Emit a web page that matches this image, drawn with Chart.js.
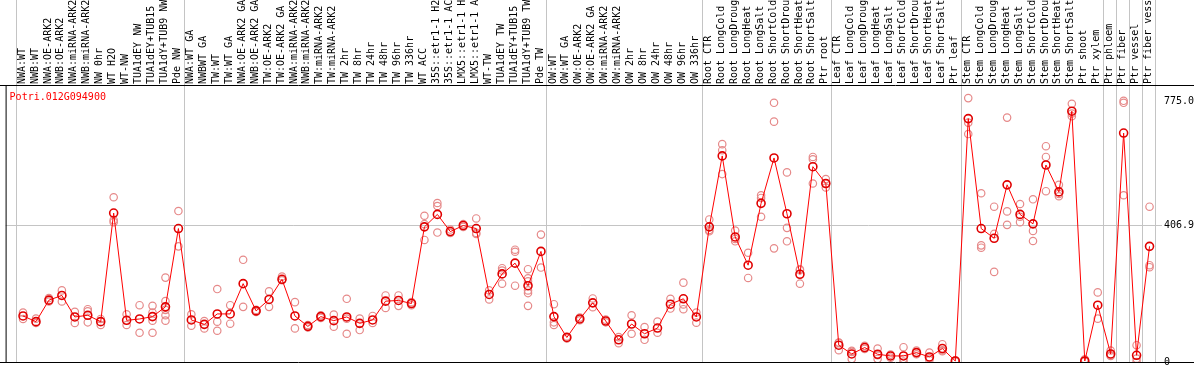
<!doctype html>
<html lang="en">
<head>
<meta charset="utf-8">
<title>Potri.012G094900</title>
<style>
  * { margin: 0; padding: 0; }
  body { background: #fff; }
  .chartBox { width: 1194px; height: 370px; }
</style>
</head>
<body>
<div class="chartBox"><canvas id="exprChart"></canvas></div>
<script src="https://cdn.jsdelivr.net/npm/chart.js"></script>
<script>
const geneName = 'Potri.012G094900'

const categories = [
  'NWA:WT', 'NWB:WT', 'NWA:OE-ARK2', 'NWB:OE-ARK2', 'NWA:miRNA-ARK2', 'NWB:miRNA-ARK2',
  'NW 0hr', 'WT H2O', 'WT-NW', 'TUA1dEY NW', 'TUA1dEY+TUB15', 'TUA1dY+TUB9 NW', 'Pde NW',
  'NWA:WT GA', 'NWBWT GA', 'TW:WT', 'TW:WT GA', 'NWA:OE-ARK2 GA', 'NWB:OE-ARK2 GA',
  'TW:OE-ARK2', 'TW:OE-ARK2 GA', 'NWA:miRNA-ARK2', 'NWB:miRNA-ARK2', 'TW:miRNA-ARK2',
  'TW:miRNA-ARK2', 'TW 2hr', 'TW 8hr', 'TW 24hr', 'TW 48hr', 'TW 96hr', 'TW 336hr',
  'WT ACC', '35S::etr1-1 H2O', '35S::etr1-1 ACC', 'LMX5::etr1-1 H2O', 'LMX5::etr1-1 ACC',
  'WT-TW', 'TUA1dEY TW', 'TUA1dEY+TUB15', 'TUA1dY+TUB9 TW', 'Pde TW',
  'OW:WT', 'OW:WT GA', 'OW:OE-ARK2', 'OW:OE-ARK2 GA', 'OW:miRNA-ARK2', 'OW:miRNA-ARK2',
  'OW 2hr', 'OW 8hr', 'OW 24hr', 'OW 48hr', 'OW 96hr', 'OW 336hr',
  'Root CTR', 'Root LongCold', 'Root LongDrought', 'Root LongHeat', 'Root LongSalt',
  'Root ShortCold', 'Root ShortDrought', 'Root ShortHeat', 'Root ShortSalt', 'Ptr root',
  'Leaf CTR', 'Leaf LongCold', 'Leaf LongDrought', 'Leaf LongHeat', 'Leaf LongSalt',
  'Leaf ShortCold', 'Leaf ShortDrought', 'Leaf ShortHeat', 'Leaf ShortSalt', 'Ptr leaf',
  'Stem CTR', 'Stem LongCold', 'Stem LongDrought', 'Stem LongHeat', 'Stem LongSalt',
  'Stem ShortCold', 'Stem ShortDrought', 'Stem ShortHeat', 'Stem ShortSalt',
  'Ptr shoot', 'Ptr xylem', 'Ptr phloem', 'Ptr fiber', 'Ptr vessel', 'Ptr fiber vessel'
]

// mean expression per sample
const means = [
  137, 120, 184, 198, 134, 139, 120, 443, 124, 128, 135, 164, 397,
  125, 112, 143, 143, 233, 152, 186, 246, 137, 106, 135, 123, 134, 115, 125, 181, 183, 174,
  402, 439, 388, 406, 397, 201, 262, 294, 227, 329,
  135, 73, 128, 176, 122, 66, 113, 84, 101, 172, 188, 134,
  402, 613, 372, 288, 472, 607, 441, 261, 581, 531,
  50, 24, 43, 23, 18, 18, 28, 15, 40, 3,
  724, 397, 368, 527, 439, 411, 586, 506, 746,
  3, 169, 24, 681, 20, 344
]

// individual replicates per sample
const replicates = [
  [147, 128], [129, 116], [190, 180], [213, 180], [149, 116], [157, 151, 118],
  [128, 110], [490, 422, 416], [142, 110], [169, 87], [167, 147, 123, 87],
  [251, 181, 155, 139, 123], [449, 344],
  [142, 108], [122, 100], [217, 120, 93], [169, 114], [304, 164], [155, 149],
  [210, 164], [254, 243], [178, 100], [110, 103], [139, 131], [141, 105],
  [188, 129, 84], [129, 95], [137, 116], [198, 161], [198, 167], [178, 169],
  [435, 410, 363], [473, 464, 385], [394, 384], [410, 402], [427, 384, 381],
  [213, 186], [279, 272, 233], [334, 328, 227], [276, 249, 240, 213, 205, 167], [379, 281],
  [172, 118, 110], [76, 70], [132, 124], [189, 163], [126, 118], [74, 56],
  [139, 84], [104, 66], [120, 87], [188, 159], [236, 171, 157], [147, 117],
  [424, 393, 389], [648, 630, 559], [391, 366, 359], [325, 250], [496, 488, 432],
  [771, 715, 338], [564, 399, 359], [276, 273, 233], [610, 603, 531], [544, 531, 519],
  [58, 57, 35], [33, 30, 9], [48, 39], [40, 20, 9], [22, 13],
  [44, 9, 1], [34, 23], [28, 11, 6], [53, 35, 32], [5, 1],
  [785, 712, 678], [502, 347, 340], [462, 381, 268], [727, 448, 408], [470, 432, 416],
  [484, 390, 360], [642, 610, 508], [527, 500, 493], [768, 739, 731],
  [8, 1], [207, 129], [34, 20, 18], [777, 771, 496], [50, 10, 0], [462, 288, 282]
]

const yTickValues = [0, 406.9, 775.0]
// last sample index of each group, a separator is drawn after it
const groupEnds = [-1, 12, 40, 52, 62, 72, 83, 84, 85, 86, 87]

const meanPoints = means.map((v, i) => ({ x: i, y: v }))
const repPoints = replicates.flatMap((r, i) => r.map(v => ({ x: i, y: v })))

const monoFont = { family: 'DejaVu Sans Mono', size: 10 }

// frame, group separators and gene name
const decor = {
  id: 'decor',
  beforeDatasetsDraw(chart) {
    const { ctx, chartArea, scales } = chart
    ctx.save()
    ctx.strokeStyle = '#c4c4c4'
    ctx.lineWidth = 1
    groupEnds.forEach(g => {
      const x = Math.round(scales.x.getPixelForValue(g + 0.5)) - 0.5
      ctx.beginPath()
      ctx.moveTo(x, 0)
      ctx.lineTo(x, chartArea.bottom)
      ctx.stroke()
    })
    ctx.restore()
  },
  afterDraw(chart) {
    const { ctx, chartArea, width } = chart
    ctx.save()
    ctx.strokeStyle = '#000'
    ctx.lineWidth = 1
    ctx.beginPath()
    ctx.moveTo(0, chartArea.top - 0.5)
    ctx.lineTo(width, chartArea.top - 0.5)
    ctx.moveTo(0, chartArea.bottom + 0.5)
    ctx.lineTo(width, chartArea.bottom + 0.5)
    ctx.moveTo(chartArea.left + 0.5, chartArea.top)
    ctx.lineTo(chartArea.left + 0.5, chartArea.bottom)
    ctx.stroke()
    ctx.fillStyle = '#ff0000'
    ctx.font = '10px "DejaVu Sans Mono"'
    ctx.textBaseline = 'middle'
    ctx.fillText(geneName, chartArea.left + 4, chartArea.top + 11)
    ctx.restore()
  }
}

const config = {
  type: 'scatter',
  data: {
    datasets: [
      {
        label: 'mean',
        data: meanPoints,
        showLine: true,
        borderColor: '#ff0000',
        borderWidth: 1,
        pointRadius: 4,
        pointBorderWidth: 1.6,
        pointBorderColor: '#e00000',
        pointBackgroundColor: 'rgba(0,0,0,0)',
        order: 0
      },
      {
        label: 'replicates',
        data: repPoints,
        showLine: false,
        pointRadius: 3.7,
        pointBorderWidth: 1.2,
        pointBorderColor: '#e68a8a',
        pointBackgroundColor: 'rgba(0,0,0,0)',
        order: 1
      }
    ]
  },
  options: {
    responsive: true,
    maintainAspectRatio: false,
    animation: false,
    layout: { padding: { left: 1, bottom: 2, top: 0, right: 0 } },
    plugins: {
      legend: { display: false },
      tooltip: { enabled: false }
    },
    scales: {
      x: {
        type: 'linear',
        position: 'top',
        min: -1.346,
        max: 87.5,
        afterBuildTicks: s => { s.ticks = categories.map((c, i) => ({ value: i })) },
        afterFit: s => { s.height = 86 },
        grid: { display: false, drawTicks: false },
        border: { display: false },
        ticks: {
          autoSkip: false,
          maxRotation: 90,
          minRotation: 90,
          padding: 2,
          labelOffset: 11,
          color: '#000',
          font: monoFont,
          callback: v => categories[v]
        }
      },
      y: {
        type: 'linear',
        position: 'right',
        min: 0,
        max: 821,
        afterBuildTicks: s => { s.ticks = yTickValues.map(v => ({ value: v })) },
        afterFit: s => { s.width = 38 },
        grid: {
          color: c => (c.tick && c.tick.value === 406.9) ? '#c4c4c4' : 'rgba(0,0,0,0)',
          tickLength: 6
        },
        border: { display: false },
        ticks: {
          padding: 2,
          color: '#000',
          font: monoFont,
          callback: v => v === 0 ? '0' : v.toFixed(1)
        }
      }
    }
  },
  plugins: [decor]
}

const exprChart = new Chart(document.getElementById('exprChart'), config)
</script>
</body>
</html>
